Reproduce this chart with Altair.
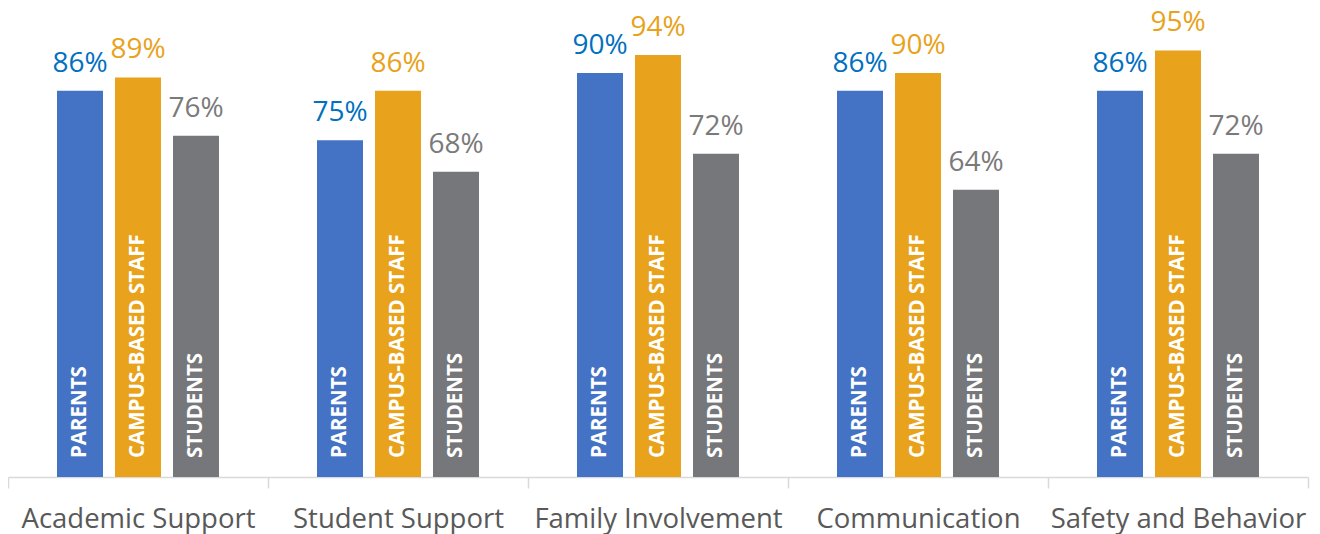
import altair as alt
import pandas as pd

categories = ["Academic Support", "Student Support", "Family Involvement", "Communication", "Safety and Behavior"]
series = ["PARENTS", "CAMPUS-BASED STAFF", "STUDENTS"]
parents = [86, 75, 90, 86, 86]
staff = [89, 86, 94, 90, 95]
students = [76, 68, 72, 64, 72]

bar_colors = ["#4472C4", "#E8A21B", "#76777B"]
label_colors = ["#0070C0", "#E8A21B", "#7A7A7A"]

rows = []
for vals, s in zip([parents, staff, students], series):
    for c, v in zip(categories, vals):
        rows.append({"category": c, "series": s, "value": v, "label": f"{v}%"})
df = pd.DataFrame(rows)

FONT = "Open Sans"

x = alt.X("category:N", sort=categories,
          scale=alt.Scale(paddingInner=0, paddingOuter=0),
          axis=alt.Axis(title=None, labelAngle=0, labelFontSize=27.5, labelColor="#595959",
                        labelFont=FONT, domainColor="#D9D9D9", domainWidth=1.5,
                        tickColor="#D9D9D9", tickWidth=1.5, tickSize=11, tickBand="extent",
                        labelPadding=17, labelLimit=0))
xo = alt.XOffset("series:N", sort=series,
                 scale=alt.Scale(paddingInner=0.2069, paddingOuter=0.845))
y = alt.Y("value:Q", scale=alt.Scale(domain=[0, 100]), axis=None)

base = alt.Chart(df)

bars = base.mark_bar().encode(
    x=x, xOffset=xo, y=y,
    color=alt.Color("series:N", scale=alt.Scale(domain=series, range=bar_colors), legend=None),
)

vals = base.mark_text(baseline="alphabetic", dy=-19, fontSize=28, font=FONT).encode(
    x=x, xOffset=xo, y=y,
    text="label:N",
    color=alt.Color("series:N", scale=alt.Scale(domain=series, range=label_colors), legend=None),
)

inner = base.mark_text(angle=270, align="left", baseline="middle", dx=19,
                       fontSize=20.5, fontWeight="bold", font=FONT, color="white").encode(
    x=x, xOffset=xo, y=alt.datum(0),
    text="series:N",
)

chart = alt.layer(bars, vals, inner).resolve_scale(color="independent").properties(
    width=1300, height=449,
    autosize=alt.AutoSizeParams(type="none"),
    padding={"left": 0, "top": 20, "right": 4, "bottom": 57},
).configure_view(stroke=None)

chart.save("out.html", embed_options={"renderer": "svg", "actions": False})
